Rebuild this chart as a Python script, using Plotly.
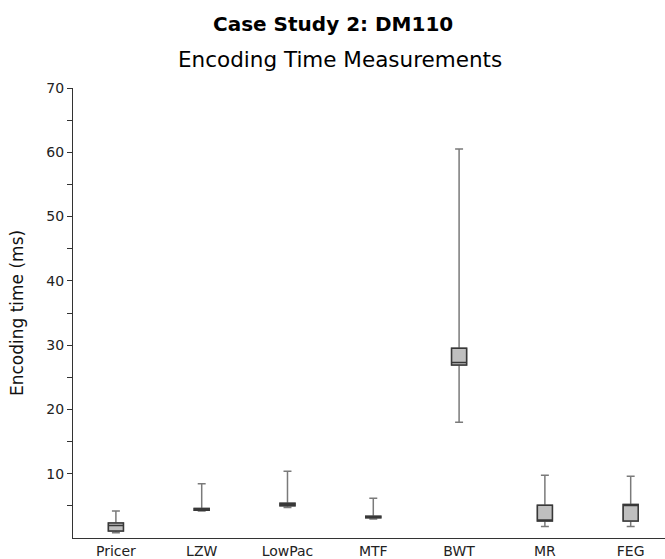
import plotly.graph_objects as go

# Encoding time summaries per codec (ms)
codecs = ["Pricer", "LZW", "LowPac", "MTF", "BWT", "MR", "FEG"]
lower_whisker = [0.8, 4.2, 4.75, 2.95, 18.0, 1.8, 1.8]
q1 = [1.1, 4.3, 5.0, 3.15, 26.9, 2.65, 2.65]
median = [1.95, 4.45, 5.15, 3.25, 27.3, 2.7, 5.05]
q3 = [2.35, 4.6, 5.4, 3.4, 29.5, 5.1, 5.2]
upper_whisker = [4.2, 8.45, 10.4, 6.2, 60.5, 9.75, 9.6]

y_major = [10, 20, 30, 40, 50, 60, 70]
y_minor = [5, 15, 25, 35, 45, 55, 65]

FONT = "DejaVu Sans"
box_width = 0.175

W, H = 665, 559
L, R, T, B = 73, 0, 88, 17
plot_w = W - L - R
plot_h = H - T - B


def px_x(xpix):
    return (xpix - L) / plot_w


def px_y(ypix):
    return (H - B - ypix) / plot_h


fig = go.Figure()

# whiskers (lighter grey)
fig.add_trace(go.Box(
    x=codecs, q1=q1, median=median, q3=q3,
    lowerfence=lower_whisker, upperfence=upper_whisker,
    width=box_width, whiskerwidth=0.53,
    fillcolor="#bfbfbf", line=dict(color="#7a7a7a", width=1.5),
    boxpoints=False, showlegend=False, hoverinfo="skip",
))
# box bodies and medians (darker outline)
fig.add_trace(go.Box(
    x=codecs, q1=q1, median=median, q3=q3,
    lowerfence=q1, upperfence=q3,
    width=box_width, whiskerwidth=0,
    fillcolor="#bfbfbf", line=dict(color="#383838", width=1.5),
    boxpoints=False, showlegend=False,
))

fig.update_layout(
    width=W, height=H,
    margin=dict(l=L, r=R, t=T, b=B),
    paper_bgcolor="white", plot_bgcolor="white",
    boxmode="overlay",
    font=dict(family=FONT, size=14, color="#222"),
    annotations=[
        dict(text="<b>Case Study 2: DM110</b>", x=px_x(W / 2), y=px_y(23),
             xref="paper", yref="paper", xanchor="center", yanchor="middle",
             showarrow=False, font=dict(family=FONT, size=20, color="black")),
        dict(text="Encoding Time Measurements", x=px_x(W / 2 + 7), y=px_y(59),
             xref="paper", yref="paper", xanchor="center", yanchor="middle",
             showarrow=False, font=dict(family=FONT, size=21.5, color="black")),
    ],
)

fig.update_xaxes(
    range=[-0.5, 6.4], showline=True, linecolor="#333", linewidth=1,
    ticks="", showgrid=False, zeroline=False,
    tickfont=dict(family=FONT, size=14, color="#222"),
)
fig.update_yaxes(
    range=[0, 70], showline=True, linecolor="#333", linewidth=1,
    tickmode="array", tickvals=y_major, ticks="outside", ticklen=5, tickcolor="#333",
    minor=dict(tickmode="array", tickvals=y_minor, ticks="outside", ticklen=5, tickcolor="#333"),
    showgrid=False, zeroline=False,
    tickfont=dict(family=FONT, size=14, color="#222"),
    title=dict(text="Encoding time (ms)", font=dict(family=FONT, size=17, color="#111"), standoff=18),
)

fig.write_html("out.html")
